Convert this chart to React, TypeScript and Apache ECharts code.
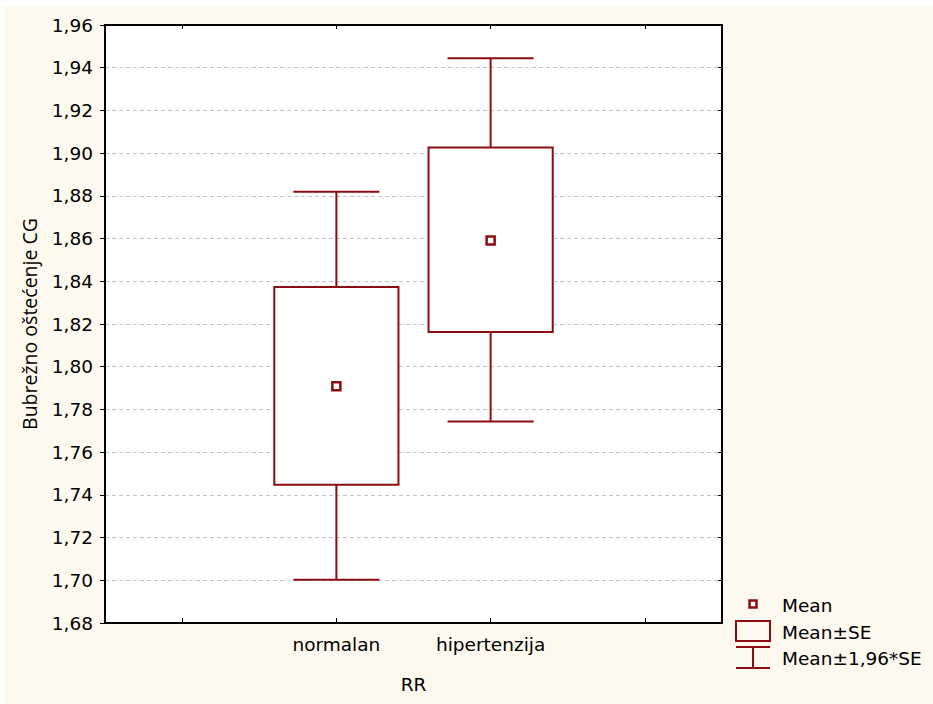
import React, { useEffect, useRef } from "react";
import * as echarts from "echarts";

const categories = ["normalan", "hipertenzija"];
const means = [1.7909, 1.8591];
const seLow = [1.7447, 1.8163];
const seHigh = [1.8373, 1.9026];
const ciLow = [1.7003, 1.7743];
const ciHigh = [1.8819, 1.9444];
const yTicks = { min: 1.68, max: 1.96, interval: 0.02 };
const legendLabels = ["Mean", "Mean±SE", "Mean±1,96*SE"];
const axisCategories = [" ", ...categories, "  "];

const RED = "#8b0d12";
const FONT = "DejaVu Sans";
const FS = 18.5;

export default function App() {
  const ref = useRef<HTMLDivElement>(null);
  useEffect(() => {
    if (!ref.current) return;
    const chart = echarts.init(ref.current, null, { renderer: "svg" });
    const fmt = (v: number) => v.toFixed(2).replace(".", ",");
    const option: any = {
      animation: false,
      backgroundColor: "#ffffff",
      grid: {
        left: 105,
        right: 211,
        top: 25,
        bottom: 81,
        show: true,
        backgroundColor: "#ffffff",
        borderColor: "#000",
        borderWidth: 2,
      },
      graphic: [
        {
          type: "rect",
          z: -100,
          silent: true,
          shape: { x: 5, y: 6, width: 928, height: 698 },
          style: { fill: "#fdf9ef" },
        },
        // legend
        {
          type: "rect",
          shape: { x: 749.5, y: 600.5, width: 7, height: 7 },
          style: { fill: "#fff", stroke: RED, lineWidth: 2.5 },
        },
        {
          type: "text",
          x: 782,
          y: 605,
          style: { text: legendLabels[0], font: `${FS}px "${FONT}"`, fill: "#000", verticalAlign: "middle" },
        },
        {
          type: "rect",
          shape: { x: 736, y: 621, width: 34, height: 20 },
          style: { fill: "#fdf9ef", stroke: RED, lineWidth: 2 },
        },
        {
          type: "text",
          x: 782,
          y: 632,
          style: { text: legendLabels[1], font: `${FS}px "${FONT}"`, fill: "#000", verticalAlign: "middle" },
        },
        { type: "line", shape: { x1: 736, y1: 647, x2: 770, y2: 647 }, style: { stroke: RED, lineWidth: 2 } },
        { type: "line", shape: { x1: 736, y1: 668, x2: 770, y2: 668 }, style: { stroke: RED, lineWidth: 2 } },
        { type: "line", shape: { x1: 753, y1: 647, x2: 753, y2: 668 }, style: { stroke: RED, lineWidth: 2 } },
        {
          type: "text",
          x: 782,
          y: 658,
          style: { text: legendLabels[2], font: `${FS}px "${FONT}"`, fill: "#000", verticalAlign: "middle" },
        },
      ],
      xAxis: [
        {
          type: "category",
          data: axisCategories,
          position: "bottom",
          boundaryGap: true,
          name: "RR",
          nameLocation: "middle",
          nameGap: 52,
          nameTextStyle: { fontFamily: FONT, fontSize: FS, color: "#000" },
          axisLine: { show: true, lineStyle: { color: "#000", width: 2 } },
          axisTick: { show: true, alignWithLabel: true, inside: true, length: 5, lineStyle: { color: "#000" } },
          axisLabel: {
            fontFamily: FONT,
            fontSize: FS,
            color: "#000",
            margin: 12,
            interval: 0,
            formatter: (v: string) => v.trim(),
          },
          splitLine: { show: false },
        },
        {
          type: "category",
          data: axisCategories,
          position: "top",
          boundaryGap: true,
          axisLine: { show: true, lineStyle: { color: "#000", width: 2 } },
          axisTick: { show: true, alignWithLabel: true, inside: true, length: 4, lineStyle: { color: "#000" } },
          axisLabel: { show: false },
          splitLine: { show: false },
        },
      ],
      yAxis: [
        {
          type: "value",
          min: yTicks.min,
          max: yTicks.max,
          interval: yTicks.interval,
          name: "Bubrežno oštećenje CG",
          nameLocation: "middle",
          nameGap: 66,
          nameTextStyle: { fontFamily: "Open Sans", fontSize: 19.5, color: "#000" },
          axisLine: { show: true, lineStyle: { color: "#000", width: 2 } },
          axisTick: { show: true, inside: false, length: 5, lineStyle: { color: "#000" } },
          axisLabel: { fontFamily: FONT, fontSize: FS, color: "#000", margin: 12, formatter: fmt },
          splitLine: { show: true, lineStyle: { color: "#c4c4c4", type: [4, 3], width: 1 } },
        },
        {
          type: "value",
          min: yTicks.min,
          max: yTicks.max,
          interval: yTicks.interval,
          position: "right",
          axisLine: { show: true, lineStyle: { color: "#000", width: 2 } },
          axisTick: { show: true, inside: true, length: 4, lineStyle: { color: "#000" } },
          axisLabel: { show: false },
          splitLine: { show: false },
        },
      ],
      series: [
        {
          name: legendLabels[2],
          type: "custom",
          xAxisIndex: 0,
          yAxisIndex: 0,
          encode: { x: 0, y: [1, 2] },
          data: categories.map((c, i) => [c, ciLow[i], ciHigh[i]]),
          renderItem: (params: any, api: any) => {
            const x = api.value(0);
            const lo = api.coord([x, api.value(1)]);
            const hi = api.coord([x, api.value(2)]);
            const cap = api.size([1, 0])[0] * 0.558;
            const st = { stroke: RED, lineWidth: 2 };
            return {
              type: "group",
              children: [
                { type: "line", shape: { x1: hi[0], y1: hi[1], x2: lo[0], y2: lo[1] }, style: st },
                { type: "line", shape: { x1: hi[0] - cap / 2, y1: hi[1], x2: hi[0] + cap / 2, y2: hi[1] }, style: st },
                { type: "line", shape: { x1: lo[0] - cap / 2, y1: lo[1], x2: lo[0] + cap / 2, y2: lo[1] }, style: st },
              ],
            };
          },
          z: 2,
        },
        {
          name: legendLabels[1],
          type: "custom",
          xAxisIndex: 0,
          yAxisIndex: 0,
          encode: { x: 0, y: [1, 2] },
          data: categories.map((c, i) => [c, seLow[i], seHigh[i]]),
          renderItem: (params: any, api: any) => {
            const x = api.value(0);
            const lo = api.coord([x, api.value(1)]);
            const hi = api.coord([x, api.value(2)]);
            const w = api.size([1, 0])[0] * 0.805;
            return {
              type: "rect",
              shape: { x: hi[0] - w / 2, y: hi[1], width: w, height: lo[1] - hi[1] },
              style: { fill: "#ffffff", stroke: RED, lineWidth: 2 },
            };
          },
          z: 3,
        },
        {
          name: legendLabels[0],
          type: "scatter",
          xAxisIndex: 0,
          yAxisIndex: 0,
          symbol: "rect",
          symbolSize: 8,
          data: categories.map((c, i) => [c, means[i]]),
          itemStyle: { color: "#ffffff", borderColor: RED, borderWidth: 2.5, opacity: 1 },
          z: 4,
        },
      ],
    };
    chart.setOption(option);
    return () => chart.dispose();
  }, []);
  return (
    <div
      ref={ref}
      style={{ position: "fixed", left: 0, top: 0, width: 933, height: 704 }}
    />
  );
}
